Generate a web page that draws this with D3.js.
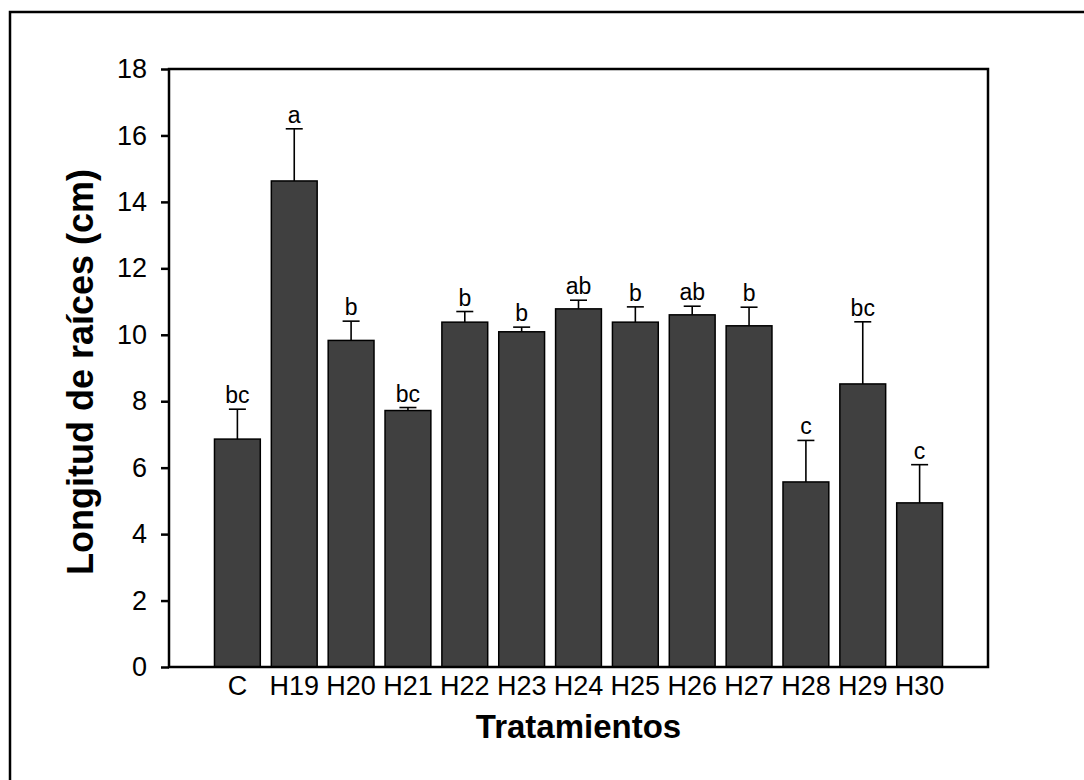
<!DOCTYPE html>
<html>
<head>
<meta charset="utf-8">
<script src="https://cdn.jsdelivr.net/npm/d3@7"></script>
<style>
	body { margin: 0; background: #fff; }
	text { font-family: "Liberation Sans", Arial, sans-serif; fill: #000; }
</style>
</head>
<body>
<div id="chart"></div>
<script>
// treatments on the x axis
const categories = ["C", "H19", "H20", "H21", "H22", "H23", "H24", "H25", "H26", "H27", "H28", "H29", "H30"];
// mean root length (cm)
const means = [6.86, 14.63, 9.83, 7.72, 10.38, 10.09, 10.78, 10.38, 10.6, 10.27, 5.57, 8.52, 4.94];
// upper error (sd) added on top of the mean
const errors = [0.9, 1.57, 0.58, 0.09, 0.32, 0.14, 0.26, 0.46, 0.26, 0.56, 1.25, 1.87, 1.15];
// significance letters
const letters = ["bc", "a", "b", "bc", "b", "b", "ab", "b", "ab", "b", "c", "bc", "c"];
const yTicks = [0, 2, 4, 6, 8, 10, 12, 14, 16, 18];

const width = 1084,
	height = 780;
const plotLeft = 169,
	plotRight = 988,
	plotTop = 69,
	plotBottom = 667;

const svg = d3.select("#chart").append("svg").attr("width", width).attr("height", height);

// outer frame (only left/top edges fall inside the picture)
svg.append("rect")
	.attr("x", 10)
	.attr("y", 12)
	.attr("width", 1200)
	.attr("height", 900)
	.attr("fill", "none")
	.attr("stroke", "#000")
	.attr("stroke-width", 2.5);

const x = d3.scaleBand().domain(categories).range([plotLeft, plotRight]).paddingInner(0.194).paddingOuter(0.8);
const y = d3.scaleLinear().domain([0, 18]).range([plotBottom, plotTop]);

const g = svg.append("g");

// bars
g.append("g")
	.selectAll("rect")
	.data(categories)
	.enter()
	.append("rect")
	.attr("x", (d) => x(d))
	.attr("y", (d, i) => y(means[i]))
	.attr("width", x.bandwidth())
	.attr("height", (d, i) => y(0) - y(means[i]))
	.attr("fill", "#404040")
	.attr("stroke", "#000")
	.attr("stroke-width", 1.5);

// error bars (upper only)
const err = g.append("g").attr("stroke", "#000").attr("stroke-width", 1.6);
err.selectAll("line.v")
	.data(categories)
	.enter()
	.append("line")
	.attr("class", "v")
	.attr("x1", (d) => x(d) + x.bandwidth() / 2)
	.attr("x2", (d) => x(d) + x.bandwidth() / 2)
	.attr("y1", (d, i) => y(means[i]))
	.attr("y2", (d, i) => y(means[i] + errors[i]));
err.selectAll("line.cap")
	.data(categories)
	.enter()
	.append("line")
	.attr("class", "cap")
	.attr("x1", (d) => x(d) + x.bandwidth() / 2 - 8.5)
	.attr("x2", (d) => x(d) + x.bandwidth() / 2 + 8.5)
	.attr("y1", (d, i) => y(means[i] + errors[i]))
	.attr("y2", (d, i) => y(means[i] + errors[i]));

// letters
g.append("g")
	.selectAll("text")
	.data(categories)
	.enter()
	.append("text")
	.attr("x", (d) => x(d) + x.bandwidth() / 2)
	.attr("y", (d, i) => y(means[i] + errors[i]) - 6)
	.attr("text-anchor", "middle")
	.attr("font-size", 23)
	.text((d, i) => letters[i]);

// plot box
svg.append("rect")
	.attr("x", plotLeft)
	.attr("y", plotTop)
	.attr("width", plotRight - plotLeft)
	.attr("height", plotBottom - plotTop)
	.attr("fill", "none")
	.attr("stroke", "#000")
	.attr("stroke-width", 2.5);

// y axis
const yAxis = svg
	.append("g")
	.attr("transform", `translate(${plotLeft},0)`)
	.call(d3.axisLeft(y).tickValues(yTicks).tickSize(8).tickPadding(14));
yAxis.select(".domain").remove();
yAxis.selectAll("line").attr("stroke-width", 2.5);
yAxis.selectAll("text").attr("font-size", 27).attr("font-family", null);

// x axis labels (no ticks)
const xAxis = svg
	.append("g")
	.attr("transform", `translate(0,${plotBottom})`)
	.call(d3.axisBottom(x).tickSize(0).tickPadding(9));
xAxis.select(".domain").remove();
xAxis.selectAll("text").attr("font-size", 27).attr("font-family", null);

// axis titles
svg.append("text")
	.attr("x", (plotLeft + plotRight) / 2)
	.attr("y", 738)
	.attr("text-anchor", "middle")
	.attr("font-size", 33)
	.attr("font-weight", "bold")
	.text("Tratamientos");

svg.append("text")
	.attr("transform", `translate(93,${(plotTop + plotBottom) / 2 + 4}) rotate(-90)`)
	.attr("text-anchor", "middle")
	.attr("font-size", 36)
	.attr("font-weight", "bold")
	.text("Longitud de raíces (cm)");
</script>
</body>
</html>
